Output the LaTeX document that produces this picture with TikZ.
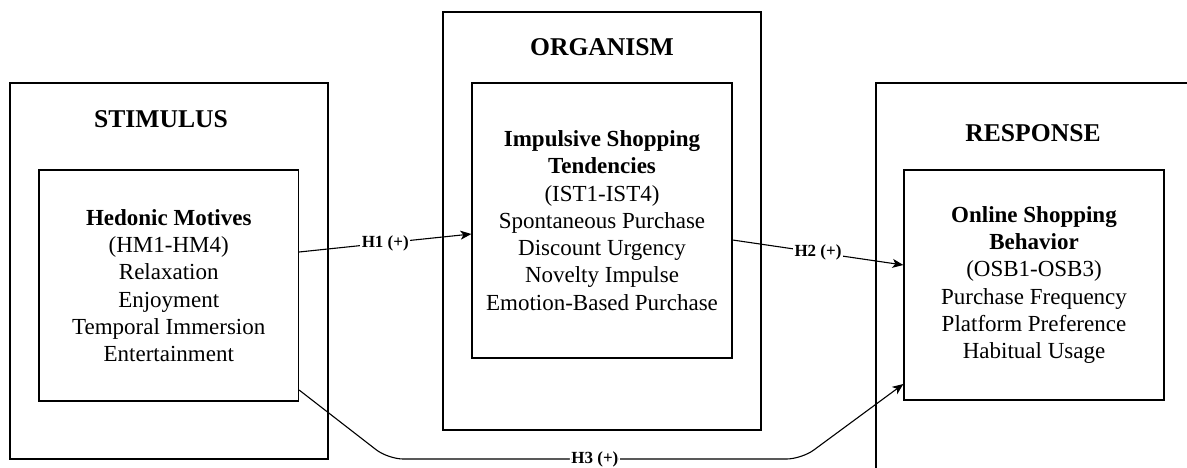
\documentclass[tikz,border=0pt]{standalone}
\usepackage{fontspec}
\setmainfont{Liberation Serif}
\usetikzlibrary{arrows.meta}
\tikzset{
  outerbox/.style={draw,line width=1.2pt,minimum width=318pt,inner sep=0pt},
  varbox/.style={draw,line width=1.2pt,minimum width=260pt,align=center,inner sep=0pt,
    font=\fontsize{23}{27.3}\selectfont},
  heading/.style={font=\bfseries\fontsize{25.6}{30}\selectfont},
  hyp/.style={-{Stealth[length=11pt,width=9pt,inset=3pt]},line width=1.1pt},
  hlabel/.style={fill=white,inner sep=1.5pt,font=\bfseries\fontsize{17}{20}\selectfont}
}
\begin{document}
\begin{tikzpicture}[x=1pt,y=-1pt]
\useasboundingbox (0,0) rectangle (1187,468);
\clip (0,0) rectangle (1187,468);

\node[outerbox,minimum height=376pt] (stim) at (169,271) {};
\node[outerbox,minimum height=418pt] (org) at (602,221) {};
\node[outerbox,minimum height=418pt] (resp) at (1035,292) {};

\node[heading] (stimtitle) at (161,119) {STIMULUS};
\node[heading] (orgtitle) at (602,47) {ORGANISM};
\node[heading] (resptitle) at (1033,133) {RESPONSE};

\node[varbox,minimum width=259.5pt,minimum height=231pt] (hm) at (168.75,285.5)
  {\textbf{Hedonic Motives}\\(HM1-HM4)\\Relaxation\\Enjoyment\\Temporal Immersion\\Entertainment};
\node[varbox,minimum height=275pt] (ist) at (602,220.5)
  {\textbf{Impulsive Shopping}\\\textbf{Tendencies}\\(IST1-IST4)\\Spontaneous Purchase\\Discount Urgency\\Novelty Impulse\\Emotion-Based Purchase};
\node[varbox,minimum height=230pt] (osb) at (1034,285)
  {\textbf{Online Shopping}\\\textbf{Behavior}\\(OSB1-OSB3)\\Purchase Frequency\\Platform Preference\\Habitual Usage};

\draw[hyp] ([yshift=33.5pt]hm.east) -- node[hlabel] {H1 (+)} ([yshift=-13.5pt]ist.west);
\draw[hyp] ([yshift=-19.5pt]ist.east) -- node[hlabel] {H2 (+)} ([yshift=20pt]osb.west);
\draw[hyp,rounded corners=15pt] ([yshift=-104.5pt]hm.east) -- ++(89,69)
  -- ++(413.5,0) node[midway,hlabel] {H3 (+)} -- ([yshift=-99pt]osb.west);
\end{tikzpicture}
\end{document}
